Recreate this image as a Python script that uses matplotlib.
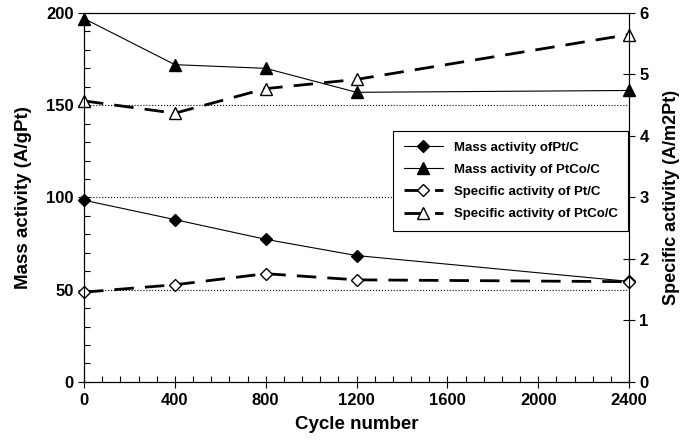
import numpy as np
import matplotlib
matplotlib.use("Agg")
import matplotlib.pyplot as plt
from matplotlib.ticker import MultipleLocator

plt.rcParams['font.family'] = ['Liberation Sans', 'DejaVu Sans']
plt.rcParams['font.weight'] = 'bold'

cycles = [0, 400, 800, 1200, 2400]
mass_pt = [98.5, 88, 77.3, 68.5, 54.5]
mass_ptco = [197, 172, 170, 157, 158]
spec_pt = [1.46, 1.58, 1.76, 1.66, 1.63]
spec_ptco = [4.57, 4.37, 4.77, 4.92, 5.65]

fig = plt.figure(figsize=(6.83, 4.41), dpi=100)
ax = fig.add_axes([0.123, 0.134, 0.798, 0.8365])
ax2 = ax.twinx()

# dotted reference lines
for yv in [50, 100, 150]:
    ax.axhline(yv, color='black', linestyle=':', linewidth=0.8, zorder=1)

h1, = ax.plot(cycles, mass_pt, color='black', linewidth=0.8, marker='D', markersize=6,
              markerfacecolor='black', label='Mass activity ofPt/C', zorder=3, clip_on=False)
h2, = ax.plot(cycles, mass_ptco, color='black', linewidth=0.8, marker='^', markersize=8,
              markerfacecolor='black', label='Mass activity of PtCo/C', zorder=3, clip_on=False)
h3, = ax2.plot(cycles, spec_pt, color='black', linewidth=2, dashes=(7, 4), marker='D', markersize=6,
               markerfacecolor='white', markeredgewidth=1, label='Specific activity of Pt/C',
               clip_on=False)
h4, = ax2.plot(cycles, spec_ptco, color='black', linewidth=2, dashes=(7, 4), marker='^', markersize=8,
               markerfacecolor='white', markeredgewidth=1, label='Specific activity of PtCo/C',
               clip_on=False)

ax.set_xlim(0, 2400)
ax.set_ylim(0, 200)
ax2.set_ylim(0, 6)
ax.xaxis.set_major_locator(MultipleLocator(400))
ax.xaxis.set_minor_locator(MultipleLocator(80))
ax.yaxis.set_major_locator(MultipleLocator(50))
ax.yaxis.set_minor_locator(MultipleLocator(10))
ax2.yaxis.set_major_locator(MultipleLocator(1))

ax.tick_params(axis='x', which='major', direction='inout', length=8, width=0.8, labelsize=12, pad=4)
ax.tick_params(axis='x', which='minor', direction='in', length=4, width=0.8)
ax.tick_params(axis='y', which='major', direction='inout', length=8, width=0.8, labelsize=12)
ax.tick_params(axis='y', which='minor', direction='in', length=4, width=0.8)
ax2.tick_params(axis='y', which='major', direction='inout', length=8, width=0.8, labelsize=12)

for a in (ax, ax2):
    for s in a.spines.values():
        s.set_linewidth(0.8)
    for lbl in a.get_xticklabels() + a.get_yticklabels():
        lbl.set_fontweight('bold')

ax.set_xlabel('Cycle number', fontsize=13.5, fontweight='bold', labelpad=6)
ax.set_ylabel('Mass activity (A/gPt)', fontsize=13.5, fontweight='bold', labelpad=10)
ax2.set_ylabel('Specific activity (A/m2Pt)', fontsize=13, fontweight='bold', labelpad=10)

leg = ax2.legend(handles=[h1, h2, h3, h4], loc='upper left', bbox_to_anchor=(0.567, 0.680),
                 borderaxespad=0, fontsize=9.5, frameon=True, fancybox=False, edgecolor='black',
                 framealpha=1, handlelength=3, labelspacing=0.75, borderpad=0.8)
leg.get_frame().set_linewidth(0.8)
for t in leg.get_texts():
    t.set_fontweight('bold')

fig.savefig('out.png', dpi=100)
